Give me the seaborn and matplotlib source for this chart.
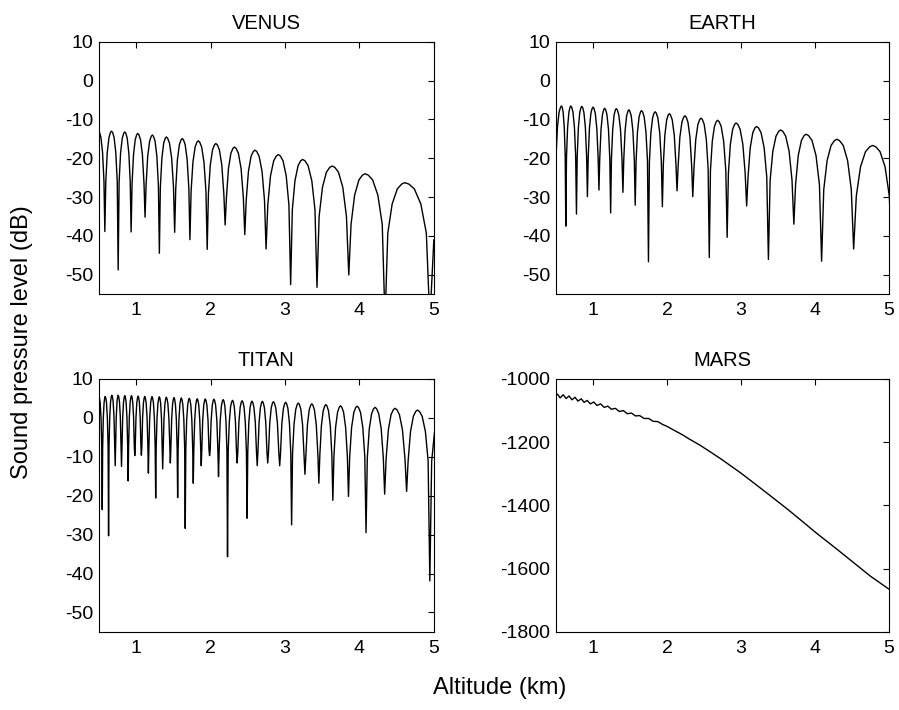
import matplotlib
matplotlib.use("Agg")
import matplotlib.pyplot as plt
import numpy as np
import pandas as pd
import seaborn as sns

# Venus: maxima and minima of the interference pattern (alt km, dB)
venus_peak_alt = [0.495, 0.67, 0.848, 1.022, 1.219, 1.406, 1.62, 1.835, 2.071, 2.321,
                  2.596, 2.911, 3.237, 3.634, 4.076, 4.61]
venus_peak_db = [-13.0, -13.0, -13.2, -13.6, -14.0, -14.5, -14.9, -15.5, -16.2, -17.1,
                 -17.9, -19.05, -20.3, -22.0, -24.0, -26.3]
venus_null_alt = [0.58, 0.759, 0.933, 1.12, 1.3125, 1.518, 1.723, 1.955, 2.196, 2.46,
                  2.746, 3.076, 3.43, 3.857, 4.344, 4.946]
venus_null_db = [-38.9, -48.8, -39.0, -35.2, -44.5, -39.1, -41.0, -43.5, -37.2, -39.7,
                 -43.4, -52.6, -53.3, -50.1, -62.0, -62.0]
venus_edge = (5.0, -41.0)

# Earth
earth_peak_alt = [0.574, 0.70, 0.848, 1.0, 1.157, 1.314, 1.484, 1.655, 1.839, 2.031,
                  2.242, 2.46, 2.683, 2.933, 3.21, 3.536, 3.879, 4.295, 4.78]
earth_peak_db = [-6.5, -6.5, -6.6, -6.8, -7.1, -7.2, -7.5, -7.7, -8.0, -8.5,
                 -9.05, -9.65, -10.2, -10.9, -11.8, -12.7, -13.8, -15.1, -16.7]
earth_null_alt = [0.488, 0.632, 0.776, 0.924, 1.08, 1.238, 1.404, 1.57, 1.749, 1.937,
                  2.135, 2.348, 2.571, 2.8125, 3.076, 3.37, 3.714, 4.089, 4.522, 5.04]
earth_null_db = [-35.0, -37.5, -34.4, -29.9, -28.2, -34.1, -28.8, -32.1, -46.7, -32.5,
                 -28.4, -29.9, -45.6, -40.4, -32.3, -46.1, -37.0, -46.55, -43.4, -45.0]

# Titan
titan_peak_alt = [0.5, 0.585, 0.674, 0.759, 0.848, 0.9375, 1.027, 1.116, 1.214, 1.3125,
                  1.406, 1.509, 1.607, 1.714, 1.821, 1.929, 2.045, 2.17, 2.295, 2.424,
                  2.556, 2.696, 2.844, 3.009, 3.179, 3.36, 3.549, 3.746, 3.969, 4.21,
                  4.478, 4.78, 5.12]
titan_peak_db = [5.5, 5.5, 5.8, 5.8, 5.7, 5.7, 5.6, 5.5, 5.45, 5.4,
                 5.3, 5.2, 5.1, 5.0, 4.9, 4.85, 4.8, 4.7, 4.5, 4.4,
                 4.3, 4.25, 4.15, 4.0, 3.8, 3.6, 3.4, 3.1, 3.0, 2.7,
                 2.45, 2.0, 1.8]
titan_null_alt = [0.545, 0.63, 0.719, 0.804, 0.893, 0.982, 1.071, 1.165, 1.263, 1.357,
                  1.46, 1.558, 1.66, 1.768, 1.875, 1.987, 2.107, 2.228, 2.357, 2.491,
                  2.627, 2.768, 2.929, 3.089, 3.268, 3.455, 3.643, 3.853, 4.089, 4.339,
                  4.634, 4.946]
titan_null_db = [-23.6, -30.3, -12.3, -12.5, -16.2, -9.7, -9.6, -14.2, -20.6, -13.1,
                 -11.6, -20.5, -28.4, -16.8, -12.3, -9.7, -15.1, -35.7, -11.6, -25.8,
                 -12.3, -11.6, -12.3, -27.5, -14.5, -16.8, -21.2, -20.2, -29.5, -19.6,
                 -18.9, -41.9]

# Mars: ripple near the ground, then a smooth decline
mars_alt = [0.5, 0.52, 0.556, 0.596, 0.636, 0.676, 0.716, 0.756, 0.796, 0.84, 0.88,
            0.92, 0.964, 1.009, 1.053, 1.102, 1.151, 1.2, 1.249, 1.302, 1.356,
            1.409, 1.462, 1.52, 1.573, 1.631, 1.689, 1.751, 1.813, 1.876, 1.94,
            2.0, 2.1, 2.211, 2.3, 2.435, 2.6, 2.741, 3.0, 3.19, 3.41,
            3.634, 3.857, 4.0, 4.304, 4.527, 4.75, 5.0]
mars_db = [-1052, -1048, -1060, -1050, -1062, -1054, -1066, -1058, -1070, -1063, -1074,
           -1068, -1079, -1073, -1084, -1079, -1090, -1086, -1096, -1093, -1103,
           -1100, -1110, -1108, -1117, -1116, -1125, -1125, -1134, -1135, -1144,
           -1150, -1163, -1177, -1190, -1208, -1233, -1255, -1298, -1332, -1372,
           -1413, -1456, -1484, -1540, -1582, -1624, -1665]

# Shape of one side of a lobe, read from the wide Venus/Earth lobes:
# fraction of the way from null to peak, and dB below the peak there
ARCH_STEP = [0.14, 0.36, 0.62, 0.84]
ARCH_DROP = [13.0, 5.5, 1.6, 0.35]


def _lobe_trace(peak_alt, peak_db, null_alt, null_db, edge=None):
    events = sorted(
        [(a, d, "peak") for a, d in zip(peak_alt, peak_db)]
        + [(a, d, "null") for a, d in zip(null_alt, null_db)]
    )
    alt, db = [events[0][0]], [events[0][1]]
    for (a0, d0, k0), (a1, d1, k1) in zip(events[:-1], events[1:]):
        if k0 == "null" and k1 == "peak":
            for f, drop in zip(ARCH_STEP, ARCH_DROP):
                alt.append(a0 + f * (a1 - a0))
                db.append(max(d1 - drop, d0))
        elif k0 == "peak" and k1 == "null":
            for f, drop in zip(ARCH_STEP[::-1], ARCH_DROP[::-1]):
                alt.append(a1 - f * (a1 - a0))
                db.append(max(d0 - drop, d1))
        alt.append(a1)
        db.append(d1)
    if edge is not None:
        alt.append(edge[0])
        db.append(edge[1])
    return pd.DataFrame({"Altitude": alt, "SPL": db})


def _style_axis(ax, yticks, ylim, title):
    ax.set_xlim(0.5, 5)
    ax.set_ylim(*ylim)
    ax.set_xticks([1, 2, 3, 4, 5])
    ax.set_yticks(yticks)
    ax.set_xlabel("")
    ax.set_ylabel("")
    ax.set_title(title, fontsize=14.5, pad=9)
    ax.tick_params(direction="in", top=True, right=True, length=4, width=0.8,
                   labelsize=14, color="black", labelcolor="black")
    ax.tick_params(axis="x", pad=6)
    ax.tick_params(axis="y", pad=4)
    for spine in ax.spines.values():
        spine.set_visible(True)
        spine.set_linewidth(0.8)
        spine.set_color("black")


def main() -> None:
    sns.set_theme(style="white", rc={"text.color": "black", "axes.labelcolor": "black",
                                     "xtick.color": "black", "ytick.color": "black"})
    plt.rcParams["font.family"] = ["Liberation Sans", "DejaVu Sans"]
    plt.rcParams["axes.unicode_minus"] = False

    fig = plt.figure(figsize=(8.99, 7.10), dpi=100)
    positions = {
        "VENUS": [0.110, 0.586, 0.3726, 0.3549],
        "EARTH": [0.6185, 0.586, 0.3704, 0.3549],
        "TITAN": [0.110, 0.110, 0.3726, 0.3563],
        "MARS": [0.6185, 0.110, 0.3704, 0.3563],
    }
    frames = {
        "VENUS": _lobe_trace(venus_peak_alt, venus_peak_db, venus_null_alt, venus_null_db, venus_edge),
        "EARTH": _lobe_trace(earth_peak_alt, earth_peak_db, earth_null_alt, earth_null_db),
        "TITAN": _lobe_trace(titan_peak_alt, titan_peak_db, titan_null_alt, titan_null_db),
        "MARS": pd.DataFrame({"Altitude": mars_alt, "SPL": mars_db}),
    }
    db_ticks = [-50, -40, -30, -20, -10, 0, 10]
    mars_ticks = [-1800, -1600, -1400, -1200, -1000]

    for name, pos in positions.items():
        ax = fig.add_axes(pos)
        sns.lineplot(data=frames[name], x="Altitude", y="SPL", sort=False,
                     estimator=None, color="black", linewidth=1.0, ax=ax)
        if name == "MARS":
            _style_axis(ax, mars_ticks, (-1800, -1000), name)
        else:
            _style_axis(ax, db_ticks, (-55, 10), name)

    fig.text(0.556, 0.031, "Altitude (km)", ha="center", va="center", fontsize=17)
    fig.text(0.024, 0.518, "Sound pressure level (dB)", ha="center", va="center",
             rotation=90, fontsize=17)

    fig.savefig("out.png", dpi=100)
    plt.close(fig)


if __name__ == "__main__":
    main()
